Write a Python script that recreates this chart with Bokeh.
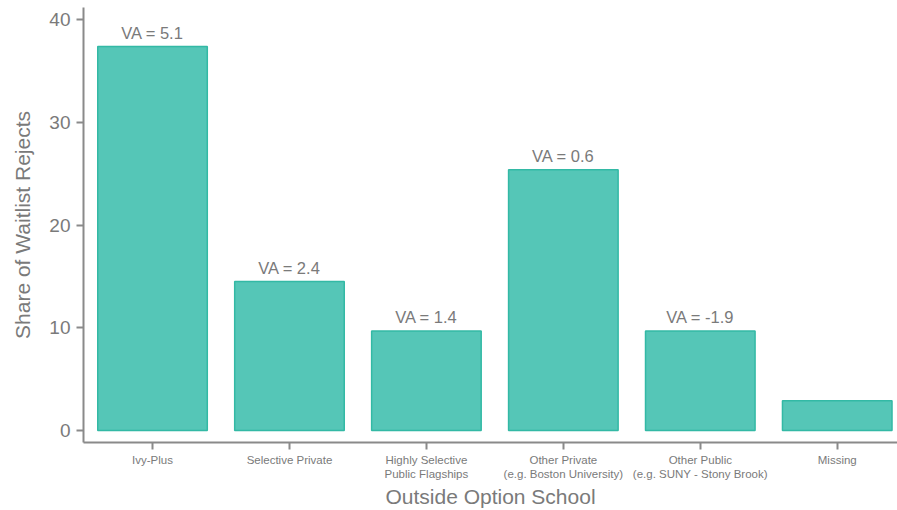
from bokeh.plotting import figure
from bokeh.models import ColumnDataSource, Range1d, FixedTicker, LabelSet
from bokeh.core.properties import value
from bokeh.embed import file_html
from bokeh.resources import INLINE

categories = ["Ivy-Plus", "Selective Private", "Highly Selective\nPublic Flagships",
              "Other Private\n(e.g. Boston University)", "Other Public\n(e.g. SUNY - Stony Brook)", "Missing"]
shares = [37.4, 14.5, 9.7, 25.4, 9.7, 2.9]
va_labels = ["VA = 5.1", "VA = 2.4", "VA = 1.4", "VA = 0.6", "VA = -1.9", ""]
y_ticks = [0, 10, 20, 30, 40]

xs = list(range(len(categories)))
src = ColumnDataSource(dict(x=xs, top=shares, lab=va_labels))

FONT = "Liberation Sans"
GRAY = "#7a7a7a"

p = figure(width=897, height=510, output_backend="svg", toolbar_location=None,
           x_range=Range1d(-0.504, 5.44), y_range=Range1d(-1.17, 41.2),
           min_border_left=83, min_border_right=0, min_border_top=7, min_border_bottom=67)
p.outline_line_color = None
p.grid.visible = False

p.vbar(x="x", top="top", bottom=0, width=0.8, source=src,
       fill_color="#55c6b7", line_color="#33b9a5", line_width=1.5)

labels = LabelSet(x="x", y="top", text="lab", source=src, text_align="center",
                  text_baseline="bottom", y_offset=5, text_font_size=value("16.5px"),
                  text_color=value(GRAY), text_font=value(FONT))
p.add_layout(labels)

p.xaxis.ticker = FixedTicker(ticks=xs)
p.xaxis.major_label_overrides = {i: c for i, c in enumerate(categories)}
p.xaxis.major_label_text_font_size = "11.5px"
p.xaxis.major_label_text_font = FONT
p.xaxis.major_label_text_color = GRAY
p.xaxis.axis_label = "Outside Option School"
p.xaxis.axis_label_text_font_size = "21px"
p.xaxis.axis_label_text_font_style = "normal"
p.xaxis.axis_label_text_font = FONT
p.xaxis.axis_label_text_color = GRAY
p.xaxis.axis_label_standoff = 2
p.xaxis.major_label_standoff = 4

p.yaxis.ticker = FixedTicker(ticks=y_ticks)
p.yaxis.major_label_text_font_size = "19px"
p.yaxis.major_label_text_font = FONT
p.yaxis.major_label_text_color = GRAY
p.yaxis.axis_label = "Share of Waitlist Rejects"
p.yaxis.axis_label_text_font_size = "21px"
p.yaxis.axis_label_text_font_style = "normal"
p.yaxis.axis_label_text_font = FONT
p.yaxis.axis_label_text_color = GRAY
p.yaxis.axis_label_standoff = 12
p.yaxis.major_label_standoff = 6

for ax in (p.xaxis, p.yaxis):
    ax.axis_line_color = "#8a8a8a"
    ax.axis_line_width = 2
    ax.major_tick_line_color = "#8a8a8a"
    ax.major_tick_line_width = 2
    ax.major_tick_out = 7
    ax.major_tick_in = 0
    ax.minor_tick_line_color = None

open("out.html", "w").write(file_html(p, INLINE))
